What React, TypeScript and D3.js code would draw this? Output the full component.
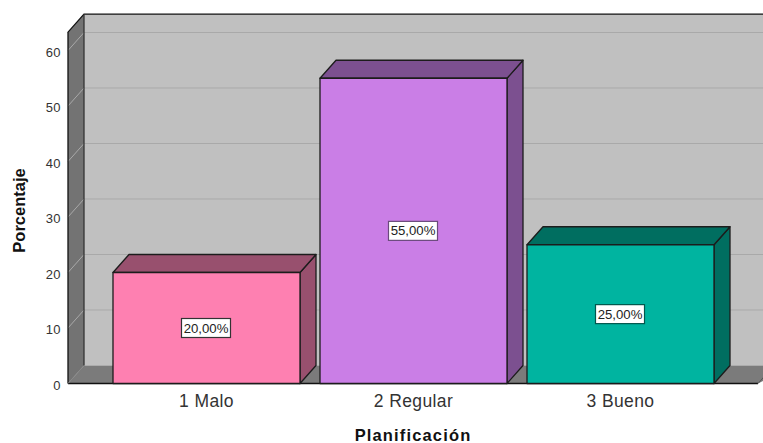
import React from "react";
import * as d3 from "d3";

const categories = ["1 Malo", "2 Regular", "3 Bueno"];
const values = [20, 55, 25];
const valueLabels = ["20,00%", "55,00%", "25,00%"];
const frontColors = ["#fe80b1", "#ca7ee6", "#00b4a0"];
const sideColors = ["#98506e", "#7c5090", "#006e60"];
const labelBorders = ["#333333", "#6a4a7c", "#00574c"];
const yTicks = [0, 10, 20, 30, 40, 50, 60];
const yTop = 63.3;

const W = 763, H = 443;
const dx = 16, dy = -18;
const left = 68, right = 758, base = 383.5;
const font = "'Liberation Sans', Arial, sans-serif";

export default function App() {
  const y = d3.scaleLinear().domain([0, 60]).range([base, 50.5]);
  const x = d3.scaleBand().domain(categories).range([113, 714]).paddingInner(20 / 207).paddingOuter(0);
  const top = y(yTop);
  const poly = d3.line();
  const farRight = right + dx + 20;
  return (
    <svg width={W} height={H} viewBox={`0 0 ${W} ${H}`} style={{ position: "fixed", left: 0, top: 0, background: "#fff" }}>
      {/* back wall */}
      <rect x={left + dx} y={top + dy} width={farRight - left - dx} height={base - top} fill="#c0c0c0" />
      {/* left wall */}
      <path d={poly([[left, top], [left + dx, top + dy], [left + dx, base + dy], [left, base]])! + "Z"} fill="#737373" />
      {/* floor */}
      <path d={poly([[left, base], [left + dx, base + dy], [farRight, base + dy], [right, base]])! + "Z"} fill="#7b7b7b" />
      {/* gridlines */}
      {yTicks.filter(t => t > 0).map(t => (
        <g key={t} stroke="#a9a9a9" strokeWidth={1} fill="none">
          <line x1={left} y1={y(t)} x2={left + dx} y2={y(t) + dy} />
          <line x1={left + dx} y1={y(t) + dy} x2={farRight} y2={y(t) + dy} />
        </g>
      ))}
      {/* frame */}
      <g stroke="#111" fill="none" strokeWidth={1.3}>
        <path d={poly([[left, base], [left, top], [left + dx, top + dy], [farRight, top + dy]])!} />
        <line x1={left + dx} y1={top + dy} x2={left + dx} y2={base + dy} stroke="#333" />
        <line x1={left} y1={base} x2={right} y2={base} />
        <line x1={left} y1={base} x2={left + dx} y2={base + dy} stroke="#888" strokeWidth={1} />
        <line x1={right} y1={base} x2={right + dx} y2={base + dy} stroke="#555" strokeWidth={1} />
      </g>
      {/* bars */}
      {categories.map((c, i) => {
        const x0 = x(c)!, x1 = x0 + x.bandwidth(), yv = y(values[i]);
        return (
          <g key={c} stroke="#1c1c1c" strokeWidth={1.3} strokeLinejoin="round">
            <path d={poly([[x1, base], [x1, yv], [x1 + dx, yv + dy], [x1 + dx, base + dy]])! + "Z"} fill={sideColors[i]} />
            <path d={poly([[x0, yv], [x0 + dx, yv + dy], [x1 + dx, yv + dy], [x1, yv]])! + "Z"} fill={sideColors[i]} />
            <rect x={x0} y={yv} width={x.bandwidth()} height={base - yv} fill={frontColors[i]} />
          </g>
        );
      })}
      {/* value labels */}
      {categories.map((c, i) => {
        const cx = x(c)! + x.bandwidth() / 2 - 0.5, cy = y(values[i] / 2);
        return (
          <g key={c}>
            <rect x={cx - 24.5} y={cy - 9.5} width={49} height={19} fill="#fff" stroke={labelBorders[i]} strokeWidth={1.2} />
            <text x={cx} y={cy + 4.5} textAnchor="middle" fontFamily={font} fontSize={13.2} fill="#222">{valueLabels[i]}</text>
          </g>
        );
      })}
      {/* y ticks */}
      {yTicks.map(t => (
        <text key={t} x={61} y={y(t) + 6} textAnchor="end" fontFamily={font} fontSize={13} letterSpacing={0.4} fill="#333">{t}</text>
      ))}
      {/* categories */}
      {categories.map(c => (
        <text key={c} x={x(c)! + x.bandwidth() / 2} y={407} textAnchor="middle" fontFamily={font} fontSize={17.5} letterSpacing={0.4} fill="#333">{c}</text>
      ))}
      <text x={413} y={441} textAnchor="middle" fontFamily={font} fontSize={16.5} fontWeight="bold" letterSpacing={1.15} fill="#111">Planificación</text>
      <text transform="translate(25,210.5) rotate(-90)" textAnchor="middle" fontFamily={font} fontSize={16.5} fontWeight="bold" fill="#111">Porcentaje</text>
    </svg>
  );
}
